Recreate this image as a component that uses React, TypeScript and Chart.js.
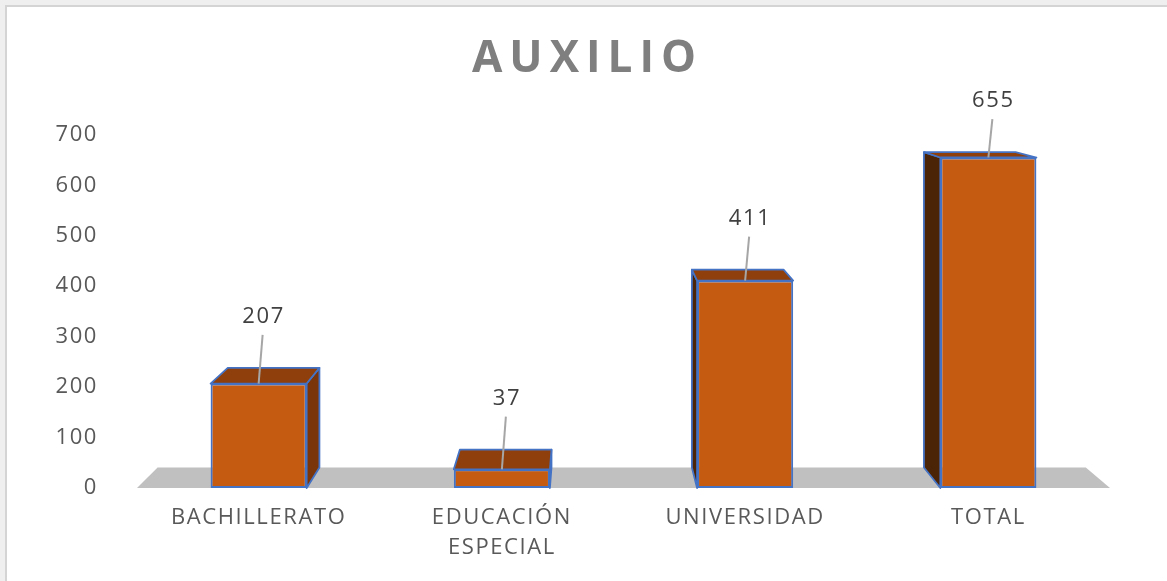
import React, { useEffect, useRef } from 'react';
import { Chart, registerables } from 'chart.js';

Chart.register(...registerables);

// ---- data ----
const chartTitle = 'AUXILIO';
const categories = ['BACHILLERATO', 'EDUCACIÓN ESPECIAL', 'UNIVERSIDAD', 'TOTAL'];
const values = [207, 37, 411, 655];
const yMin = 0;
const yMax = 700;
const yStep = 100;

// ---- style ----
const FONT = "'Open Sans', 'DejaVu Sans', sans-serif";
const FRONT = '#C55A11';
const TOP_FACE = '#8E3F0B';
const RIGHT_FACE = '#7A350A';
const LEFT_FACE = '#4B2307';
const EDGE = '#4472C4';
const FLOOR = '#C0C0C0';
// perspective (canvas px)
const VP = { x: 576, y: 34 };
const DEPTH = 0.046;

function back(x: number, y: number) {
  return { x: x + DEPTH * (VP.x - x), y: y + DEPTH * (VP.y - y) };
}

function poly(ctx: CanvasRenderingContext2D, pts: { x: number; y: number }[], fill: string, stroke?: string) {
  ctx.beginPath();
  ctx.moveTo(pts[0].x, pts[0].y);
  for (let i = 1; i < pts.length; i++) ctx.lineTo(pts[i].x, pts[i].y);
  ctx.closePath();
  ctx.fillStyle = fill;
  ctx.fill();
  if (stroke) {
    ctx.strokeStyle = stroke;
    ctx.lineWidth = 1.8;
    ctx.lineJoin = 'round';
    ctx.stroke();
  }
}

const spacingPlugin = {
  id: 'spacing',
  beforeDraw(chart: any) {
    (chart.ctx as any).letterSpacing = '7px';
  },
  beforeDatasetsDraw(chart: any) {
    (chart.ctx as any).letterSpacing = '1.6px';
  },
};

const bars3dPlugin = {
  id: 'bars3d',
  beforeDatasetsDraw(chart: any) {
    const ctx: CanvasRenderingContext2D = chart.ctx;
    const { chartArea, scales } = chart;
    const yb = scales.y.getPixelForValue(0);
    ctx.save();
    const l = chartArea.left;
    const r = chartArea.right;
    poly(ctx, [{ x: l, y: yb }, { x: r, y: yb }, back(r, yb), back(l, yb)], FLOOR);
    const meta = chart.getDatasetMeta(0);
    meta.data.forEach((el: any) => {
      const { x, y, base, width } = el.getProps(['x', 'y', 'base', 'width'], true);
      const bl = x - width / 2;
      const br = x + width / 2;
      if (br < VP.x) {
        poly(ctx, [{ x: br, y }, { x: br, y: base }, back(br, base), back(br, y)], RIGHT_FACE, EDGE);
      }
      if (bl > VP.x) {
        poly(ctx, [{ x: bl, y }, { x: bl, y: base }, back(bl, base), back(bl, y)], LEFT_FACE, EDGE);
      }
      poly(ctx, [{ x: bl, y }, { x: br, y }, back(br, y), back(bl, y)], TOP_FACE, EDGE);
    });
    ctx.restore();
  },
  afterDatasetsDraw(chart: any) {
    const ctx: CanvasRenderingContext2D = chart.ctx;
    const meta = chart.getDatasetMeta(0);
    const data = chart.data.datasets[0].data as number[];
    ctx.save();
    meta.data.forEach((el: any, i: number) => {
      const { x, y } = el.getProps(['x', 'y'], true);
      const bk = back(x, y);
      const lx = x + 4;
      const ly = bk.y - 51;
      ctx.beginPath();
      ctx.moveTo(lx, ly + 18);
      ctx.lineTo(x, y);
      ctx.strokeStyle = '#A6A6A6';
      ctx.lineWidth = 2;
      ctx.stroke();
      ctx.font = `22px ${FONT}`;
      ctx.fillStyle = '#404040';
      ctx.textAlign = 'center';
      ctx.textBaseline = 'middle';
      ctx.fillText(String(data[i]), lx + 1, ly);
    });
    ctx.restore();
  },
};

export default function App() {
  const ref = useRef<HTMLCanvasElement>(null);

  useEffect(() => {
    if (!ref.current) return;
    const labels = categories.map((c) => (c.includes(' ') ? c.split(' ') : c));
    const chart = new Chart(ref.current, {
      type: 'bar',
      data: {
        labels,
        datasets: [
          {
            data: values,
            backgroundColor: FRONT,
            borderColor: EDGE,
            borderWidth: 2,
            borderSkipped: false,
            categoryPercentage: 1,
            barPercentage: 0.395,
          },
        ],
      },
      options: {
        responsive: false,
        animation: false,
        devicePixelRatio: 1,
        layout: { padding: { left: 0, right: 0, top: 0, bottom: 0 } },
        plugins: {
          legend: { display: false },
          tooltip: { enabled: false },
          title: {
            display: true,
            text: chartTitle,
            color: '#7F7F7F',
            font: { family: FONT, size: 44, weight: 'bold' },
            padding: { top: 25, bottom: 49 },
          },
        },
        scales: {
          x: {
            grid: { display: false, drawTicks: false },
            border: { display: false },
            ticks: {
              color: '#595959',
              font: { family: FONT, size: 22, lineHeight: 1.36 },
              padding: 15,
              maxRotation: 0,
              autoSkip: false,
              z: 1,
            },
            afterFit(scale: any) {
              scale.height = 93;
            },
          },
          y: {
            min: yMin,
            max: yMax,
            grid: { display: false, drawTicks: false },
            border: { display: false },
            ticks: {
              stepSize: yStep,
              color: '#595959',
              font: { family: FONT, size: 22 },
              padding: 39,
              z: 1,
            },
            afterFit(scale: any) {
              scale.width = 129;
            },
          },
          yRight: {
            position: 'right',
            display: true,
            grid: { display: false, drawTicks: false },
            border: { display: false },
            ticks: { display: false },
            afterFit(scale: any) {
              scale.width = 57;
            },
          },
        },
      },
      plugins: [spacingPlugin, bars3dPlugin],
    });
    return () => chart.destroy();
  }, []);

  return (
    <div
      style={{
        position: 'fixed',
        left: 0,
        top: 0,
        width: 1167,
        height: 581,
        background: '#EFEFEF',
        overflow: 'hidden',
      }}
    >
      <div
        style={{
          position: 'absolute',
          left: 5,
          top: 5,
          width: 1162,
          height: 576,
          background: '#FFFFFF',
          borderLeft: '2px solid #D4D4D4',
          borderTop: '2px solid #D4D4D4',
          boxSizing: 'border-box',
        }}
      />
      <canvas
        ref={ref}
        width={1159}
        height={573}
        style={{ position: 'absolute', left: 8, top: 8, display: 'block' }}
      />
    </div>
  );
}
